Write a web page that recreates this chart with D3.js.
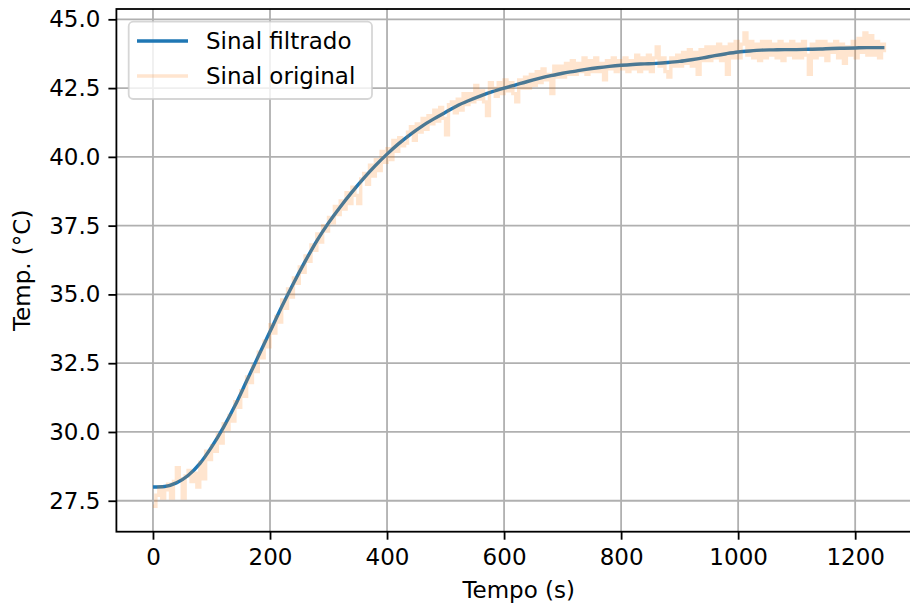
<!DOCTYPE html>
<html><head><meta charset="utf-8">
<script src="https://cdn.jsdelivr.net/npm/d3@7"></script>
<style>body{margin:0;background:#fff}svg{display:block}text{font-family:"DejaVu Sans",sans-serif;fill:#000}</style>
</head><body><svg id="c" width="910" height="606"></svg>
<script>
// Filtered signal: time (s) and temperature (°C)
const filtT = [0,20,40,60,80,100,120,140,160,180,200,220,240,260,280,300,320,340,360,380,400,420,440,460,480,500,520,540,560,580,600,620,640,660,680,700,720,740,760,780,800,820,840,860,880,900,920,940,960,980,1000,1020,1040,1060,1080,1100,1120,1140,1160,1180,1200,1220,1240,1250];
const filtV = [28.00,28.02,28.15,28.42,28.85,29.45,30.15,30.95,31.85,32.75,33.65,34.55,35.40,36.20,36.95,37.60,38.18,38.72,39.22,39.68,40.10,40.48,40.82,41.12,41.38,41.62,41.86,42.05,42.22,42.37,42.50,42.62,42.74,42.85,42.95,43.04,43.11,43.18,43.24,43.29,43.33,43.36,43.38,43.40,43.43,43.47,43.53,43.60,43.68,43.75,43.81,43.85,43.88,43.89,43.90,43.90,43.91,43.92,43.94,43.95,43.96,43.97,43.97,43.97];
// Original (raw) signal, one reading every 5 s from 0 to 1250 s
const origV = [
27.3,27.7,28.0,27.6,27.9,28.1,27.6,28.2,28.7,28.3,27.6,28.4,28.6,28.2,28.5,28.0,28.9,28.3,29.3,29.0,
29.5,29.3,29.9,29.6,30.3,30.1,30.6,30.4,31.1,30.9,31.5,31.3,32.0,31.8,32.4,32.2,32.9,32.7,33.3,33.1,
33.9,33.6,34.2,34.0,34.8,34.5,35.2,34.9,35.6,35.4,36.0,35.8,36.4,36.2,36.8,36.6,37.2,36.9,37.5,37.3,
37.8,37.6,38.2,37.9,38.4,38.1,38.7,38.3,38.9,38.6,38.3,39.2,39.4,39.0,39.7,39.3,39.9,39.5,40.2,39.8,
40.3,39.9,40.6,40.2,40.7,40.4,40.5,40.9,41.1,40.6,41.2,40.9,41.4,41.0,41.5,41.2,41.7,41.3,41.8,41.4,
40.8,41.9,42.0,41.6,42.1,41.7,42.3,41.9,42.3,42.0,42.6,42.1,42.4,42.0,41.5,42.7,42.5,42.2,42.7,42.3,
42.8,42.4,42.7,42.3,42.0,42.8,42.5,42.9,42.5,43.0,42.6,43.1,42.7,43.2,42.8,43.0,42.3,43.3,42.9,43.3,
42.9,43.4,43.0,43.5,43.0,43.4,43.1,43.6,43.0,43.5,43.1,43.6,43.1,43.4,42.8,43.5,43.2,43.6,43.1,43.5,
43.2,43.6,43.1,43.5,43.2,43.7,43.1,43.6,43.2,43.7,43.1,43.6,44.0,43.3,43.6,43.1,42.9,43.6,43.3,43.7,
43.3,43.8,43.4,43.9,43.3,43.8,43.0,43.9,43.5,44.0,43.5,44.0,43.6,44.1,43.5,44.0,43.0,44.1,43.6,44.2,
43.6,44.1,44.5,43.7,44.2,43.6,44.1,43.5,44.2,43.6,44.2,43.7,44.1,43.6,44.2,43.5,44.1,43.7,44.2,43.6,
44.1,43.6,44.2,43.7,43.0,44.1,43.6,44.2,43.7,44.2,43.5,44.1,43.8,44.2,43.6,44.1,43.4,44.0,43.7,44.2,
43.6,44.3,43.8,44.5,43.7,44.4,43.7,44.2,43.6,44.1,43.8];
const origStep = 5;
const xTicks = [0,200,400,600,800,1000,1200];
const yTicks = [27.5,30.0,32.5,35.0,37.5,40.0,42.5,45.0];
const seriesNames = ["Sinal filtrado","Sinal original"];
const xLabel = "Tempo (s)", yLabel = "Temp. (°C)";

const svg = d3.select("#c");
const L = 116.4, R = 921, T = 9, B = 531.7;
const x = d3.scaleLinear().domain([-62.5,1312.5]).range([L,R]);
const y = d3.scaleLinear().domain([26.375,45.375]).range([B,T]);
const fs = 23;

// grid
const g = svg.append("g");
g.selectAll(".gx").data(xTicks).enter().append("line")
  .attr("x1",d=>x(d)).attr("x2",d=>x(d)).attr("y1",T).attr("y2",B)
  .attr("stroke","#b0b0b0").attr("stroke-width",1.8);
g.selectAll(".gy").data(yTicks).enter().append("line")
  .attr("x1",L).attr("x2",R).attr("y1",d=>y(d)).attr("y2",d=>y(d))
  .attr("stroke","#b0b0b0").attr("stroke-width",1.8);

// lines
const filtData = filtT.map((t,i)=>[t,filtV[i]]);
const origData = origV.map((v,i)=>[i*origStep,v]);
svg.append("clipPath").attr("id","cp").append("rect").attr("x",L).attr("y",T).attr("width",R-L).attr("height",B-T);
svg.append("path").datum(filtData).attr("clip-path","url(#cp)")
  .attr("d",d3.line().x(d=>x(d[0])).y(d=>y(d[1])).curve(d3.curveMonotoneX))
  .attr("fill","none").attr("stroke","#1f77b4").attr("stroke-width",3.4).attr("stroke-linejoin","round");
svg.append("path").datum(origData).attr("clip-path","url(#cp)")
  .attr("d",d3.line().x(d=>x(d[0])).y(d=>y(d[1])).curve(d3.curveStepAfter))
  .attr("fill","none").attr("stroke","#ff7f0e").attr("stroke-opacity",0.2).attr("stroke-width",3.4);

// axes
const xAxis = svg.append("g").attr("transform",`translate(0,${B})`)
  .call(d3.axisBottom(x).tickValues(xTicks).tickSize(8).tickPadding(9).tickFormat(d3.format("d")));
const yAxis = svg.append("g").attr("transform",`translate(${L},0)`)
  .call(d3.axisLeft(y).tickValues(yTicks).tickSize(8).tickPadding(8).tickFormat(d3.format(".1f")));
[xAxis,yAxis].forEach(a=>{
  a.select(".domain").remove();
  a.selectAll(".tick line").attr("stroke","#000").attr("stroke-width",1.8);
  a.selectAll(".tick text").attr("font-size",fs).attr("font-family","DejaVu Sans").attr("fill","#000");
});
// spines
svg.append("rect").attr("x",L).attr("y",T).attr("width",R-L).attr("height",B-T)
  .attr("fill","none").attr("stroke","#000").attr("stroke-width",1.8);

// labels
svg.append("text").attr("x",(L+R)/2).attr("y",598).attr("text-anchor","middle").attr("font-size",fs).text(xLabel);
svg.append("text").attr("transform",`translate(30,${(T+B)/2}) rotate(-90)`).attr("text-anchor","middle").attr("font-size",fs).text(yLabel);

// legend
const lg = svg.append("g");
lg.append("rect").attr("x",128.7).attr("y",21.7).attr("width",243.3).attr("height",77.3).attr("rx",4.5)
  .attr("fill","#fff").attr("fill-opacity",0.8).attr("stroke","#cccccc").attr("stroke-opacity",0.8).attr("stroke-width",1.8);
const legColors = [["#1f77b4",1],["#ff7f0e",0.2]];
seriesNames.forEach((n,i)=>{
  const yy = 41 + i*35;
  lg.append("line").attr("x1",137).attr("x2",188).attr("y1",yy).attr("y2",yy)
    .attr("stroke",legColors[i][0]).attr("stroke-opacity",legColors[i][1]).attr("stroke-width",3.4);
  lg.append("text").attr("x",206).attr("y",yy).attr("dy","0.35em").attr("font-size",fs).text(n);
});
</script></body></html>
